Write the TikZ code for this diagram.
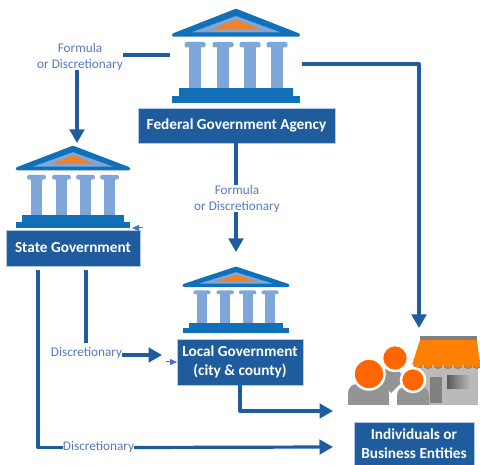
\documentclass[tikz,border=0pt]{standalone}
\usepackage{fontspec}
\setmainfont{Carlito}
\usetikzlibrary{arrows.meta}
\definecolor{flowblue}{HTML}{1F5C9E}
\definecolor{stepblue}{HTML}{1270B8}
\definecolor{pillarblue}{HTML}{7FA6D8}
\definecolor{labelblue}{HTML}{5878BE}
\definecolor{tinyblue}{HTML}{4472C4}
\definecolor{roofnote}{HTML}{EF8228}
\definecolor{awning}{HTML}{FF8000}
\definecolor{people}{HTML}{FF6600}
\tikzset{
  flowline/.style={draw=flowblue,line width=3.2pt,line join=round},
  flowarrow/.style={flowline,-{Triangle[width=14.5pt,length=13.5pt]}},
  tinyarrow/.style={draw=tinyblue,line width=1pt,-{Triangle[width=6pt,length=7pt]}},
  govbox/.style={fill=flowblue,draw=pillarblue!60,line width=.5pt,text=white,align=center,
    inner sep=0pt,font=\fontsize{15.3}{18.8}\selectfont\bfseries},
  fundlabel/.style={text=labelblue,align=center,inner sep=0pt,font=\fontsize{13.2}{16}\selectfont},
  govhouse/.pic={
    \draw[stepblue,fill=stepblue,line width=3.4pt,line join=round] (0,0.5)--(-62.5,25)--(62.5,25)--cycle;
    \fill[pillarblue] (0,6)--(-45,22.5)--(45,22.5)--cycle;
    \fill[roofnote] (0,9.5)--(-25,19.5)--(25,19.5)--cycle;
    \foreach \px in {-41,-13,14,41} {
      \fill[pillarblue,rounded corners=2pt] (\px-10.5,32) rectangle (\px+10.5,37.5);
      \fill[pillarblue] (\px-6,36) rectangle (\px+6,78);
    }
    \fill[stepblue] (-57,78) rectangle (57,86);
    \fill[stepblue] (-64,86) rectangle (64,93);
  }
}
\begin{document}
\begin{tikzpicture}[x=1pt,y=-1pt]
\useasboundingbox (0,0) rectangle (480,465);

% buildings
\pic at (236,10) {govhouse};
\pic[xscale=.89,yscale=.87] at (73,147) {govhouse};
\pic[xscale=.83,yscale=.70] at (236,268) {govhouse};

% shop and people
\fill[black!27] (420,366) rectangle (478,405);
\fill[black!50] (430,377) rectangle (442,403);
\shade[left color=black!65,right color=black!25] (447,376) rectangle (471,389);
\fill[black!50] (420,336) rectangle (477,341);
\foreach \sx in {418,428,438,448,458,468,477} {
  \fill[black!50] (\sx,364) circle (5pt);
}
\foreach \sx in {418,428,438,448,458,468,477} {
  \fill[awning] (\sx,364) circle (3.8pt);
}
\fill[awning,rounded corners=1pt] (420,340)--(477,340)--(480,365)--(412,365)--cycle;
\fill[black!42] (391,364)--(406,378)--(391,393)--(376,378)--cycle;
\fill[black!42] (348,405)[rounded corners=9pt]--(348,384)--(389,384)[sharp corners]--(389,405)--cycle;
\fill[black!42] (397,405)[rounded corners=8pt]--(397,387)--(429,387)[sharp corners]--(429,405)--cycle;
\fill[people,draw=white,line width=2.5pt] (369,374) circle (15.5pt);
\fill[people,draw=white,line width=2.5pt] (395,358) circle (13pt);
\fill[people,draw=white,line width=2.5pt] (413,380) circle (12pt);

% boxes
\node[govbox,minimum width=197pt,minimum height=35pt] (fedbox) at (236.5,125.5) {\raisebox{-1pt}{Federal Government Agency}};
\node[govbox,minimum width=134pt,minimum height=36pt] (statebox) at (73,248) {\raisebox{-1pt}{State Government}};
\node[govbox,minimum width=126pt,minimum height=46pt] (localbox) at (240,362) {Local Government\\(city \& county)};
\node[govbox,minimum width=120pt,minimum height=43pt] (bizbox) at (414,443.5) {Individuals or\\Business Entities};

% labels
\node[fundlabel] (fedstate) at (80,56.5) {Formula\\or Discretionary};
\node[fundlabel] (fedlocal) at (237,198.5) {Formula\\or Discretionary};
\node[fundlabel] (statelocal) at (86.5,353) {Discretionary};
\node[fundlabel] (statebiz) at (98.5,447.5) {Discretionary};

% free ends
\coordinate (fedleft) at (170,55);
\coordinate (fedright) at (302,64);
\coordinate (bizroof) at (419,328);
\coordinate (statetop) at (77,143);
\coordinate (localtop) at (236,252);
\coordinate (statedrop) at (38,270);
\coordinate (statestub) at (86,270);
\coordinate (stubend) at (86,343);
\coordinate (localin) at (162,355);
\coordinate (bizin) at (333,411);
\coordinate (bizlow) at (333,447);

% connectors
\draw[flowline] (fedleft) -- (fedstate.east |- fedleft);
\draw[flowarrow] (statetop |- fedstate.south) -- (statetop);
\draw[flowarrow] (fedright) -| (bizroof);
\draw[flowline] (fedbox.south -| localtop) -- (fedlocal.north -| localtop);
\draw[flowarrow] (fedlocal.south -| localtop) -- (localtop);
\draw[flowline] (statestub) -- (stubend);
\draw[flowarrow] (statelocal.east |- localin) -- (localin);
\draw[flowline] (statedrop) |- (statebiz.west);
\draw[flowarrow] (statebiz.east) -- (bizlow);
\draw[flowarrow] (localbox.south) |- (bizin);

% small stray arrows
\coordinate (straya) at (143,228);
\coordinate (strayb) at (132,228);
\coordinate (strayc) at (166,362);
\coordinate (strayd) at (177,362);
\draw[tinyarrow] (straya) -- (strayb);
\draw[tinyarrow] (strayc) -- (strayd);
\end{tikzpicture}
\end{document}
